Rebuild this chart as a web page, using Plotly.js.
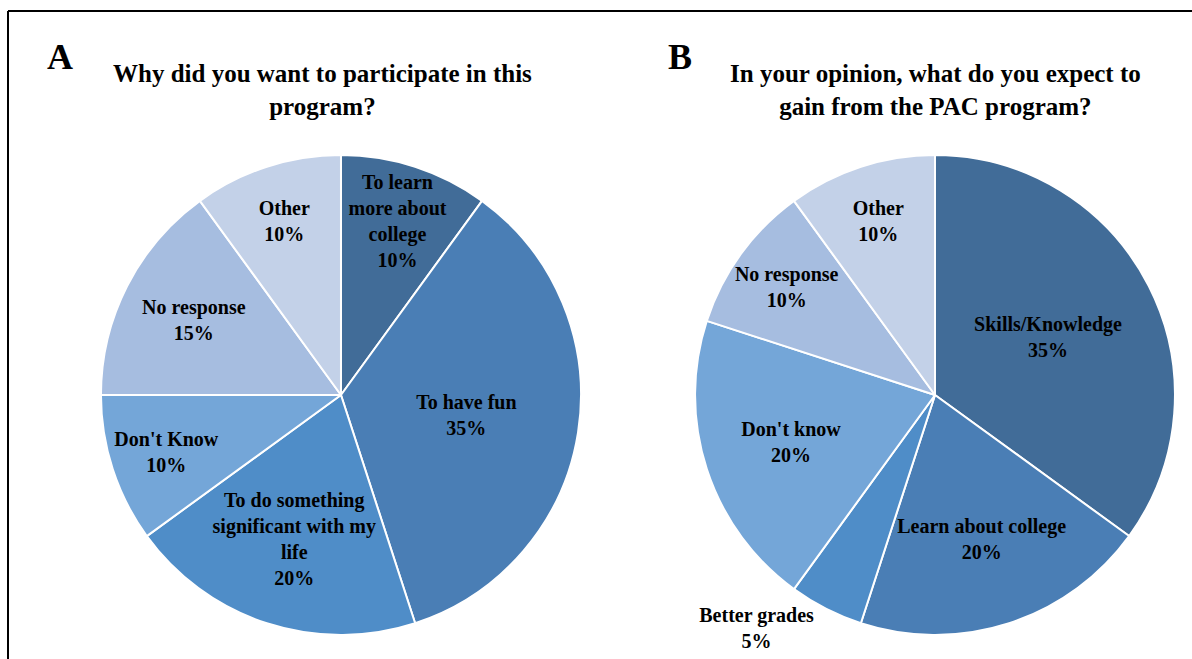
<!DOCTYPE html>
<html>
<head>
<meta charset="utf-8">
<script src="https://cdn.plot.ly/plotly-3.0.1.min.js"></script>
<style>html,body{margin:0;padding:0;background:#fff;}#chart{width:1192px;height:659px;}</style>
</head>
<body>
<div id="chart"></div>
<script>
// Panel A
const labelsA = ["To learn more about college", "To have fun", "To do something significant with my life", "Don't Know", "No response", "Other"];
const textA = ["To learn<br>more about<br>college", "To have fun", "To do something<br>significant with my<br>life", "Don't Know", "No response", "Other"];
const valuesA = [10, 35, 20, 10, 15, 10];
// Panel B
const labelsB = ["Skills/Knowledge", "Learn about college", "Better grades", "Don't know", "No response", "Other"];
const textB = ["Skills/Knowledge", "Learn about college", "Better grades", "Don't know", "No response", "Other"];
const valuesB = [35, 20, 5, 20, 10, 10];
const titleA = "Why did you want to participate in this<br>program?";
const titleB = "In your opinion, what do you expect to<br>gain from the PAC program?";

const colors = ["#416C98", "#4A7EB5", "#4F8DC8", "#74A6D8", "#A6BDE0", "#C3D1E8"];
const serif = "Liberation Serif, Times New Roman, serif";

function pieTrace(labels, text, values, dx, positions) {
  return {
    type: "pie",
    labels: labels,
    values: values,
    customdata: text,
    texttemplate: "%{customdata}<br>%{percent:.0%}",
    hoverinfo: "label+percent",
    sort: false,
    direction: "clockwise",
    rotation: 0,
    marker: {colors: colors, line: {color: "#ffffff", width: 2}},
    textposition: positions,
    insidetextorientation: "horizontal",
    textfont: {family: serif, size: 20, color: "#000000", weight: "bold"},
    outsidetextfont: {family: serif, size: 20, color: "#000000", weight: "bold"},
    domain: {x: dx, y: [0.0364, 0.7648]},
    showlegend: false
  };
}

const data = [
  pieTrace(labelsA, textA, valuesA, [0.0847, 0.4874], "inside"),
  pieTrace(labelsB, textB, valuesB, [0.5831, 0.9857], ["inside", "inside", "outside", "inside", "inside", "inside"])
];

const layout = {
  width: 1192, height: 659,
  margin: {l: 0, r: 0, t: 0, b: 0},
  paper_bgcolor: "#ffffff",
  uniformtext: {minsize: 20, mode: "show"},
  showlegend: false,
  shapes: [
    {type: "line", xref: "paper", yref: "paper", x0: 8/1192, x1: 1, y0: 1 - 11/659, y1: 1 - 11/659, line: {color: "#000", width: 2}},
    {type: "line", xref: "paper", yref: "paper", x0: 8/1192, x1: 8/1192, y0: 0, y1: 1 - 11/659, line: {color: "#000", width: 2}}
  ],
  annotations: [
    {text: "A", xref: "paper", yref: "paper", x: 60/1192, y: 1 - 57/659, showarrow: false, xanchor: "center", yanchor: "middle", font: {family: serif, size: 36, color: "#000", weight: "bold"}},
    {text: "B", xref: "paper", yref: "paper", x: 680/1192, y: 1 - 57/659, showarrow: false, xanchor: "center", yanchor: "middle", font: {family: serif, size: 36, color: "#000", weight: "bold"}},
    {text: titleA, xref: "paper", yref: "paper", x: 322/1192, y: 1 - 90/659, showarrow: false, xanchor: "center", yanchor: "middle", align: "center", font: {family: serif, size: 25, color: "#000", weight: "bold"}},
    {text: titleB, xref: "paper", yref: "paper", x: 935/1192, y: 1 - 90/659, showarrow: false, xanchor: "center", yanchor: "middle", align: "center", font: {family: serif, size: 25, color: "#000", weight: "bold"}}
  ]
};

Plotly.newPlot("chart", data, layout, {displayModeBar: false, staticPlot: true});
</script>
</body>
</html>
